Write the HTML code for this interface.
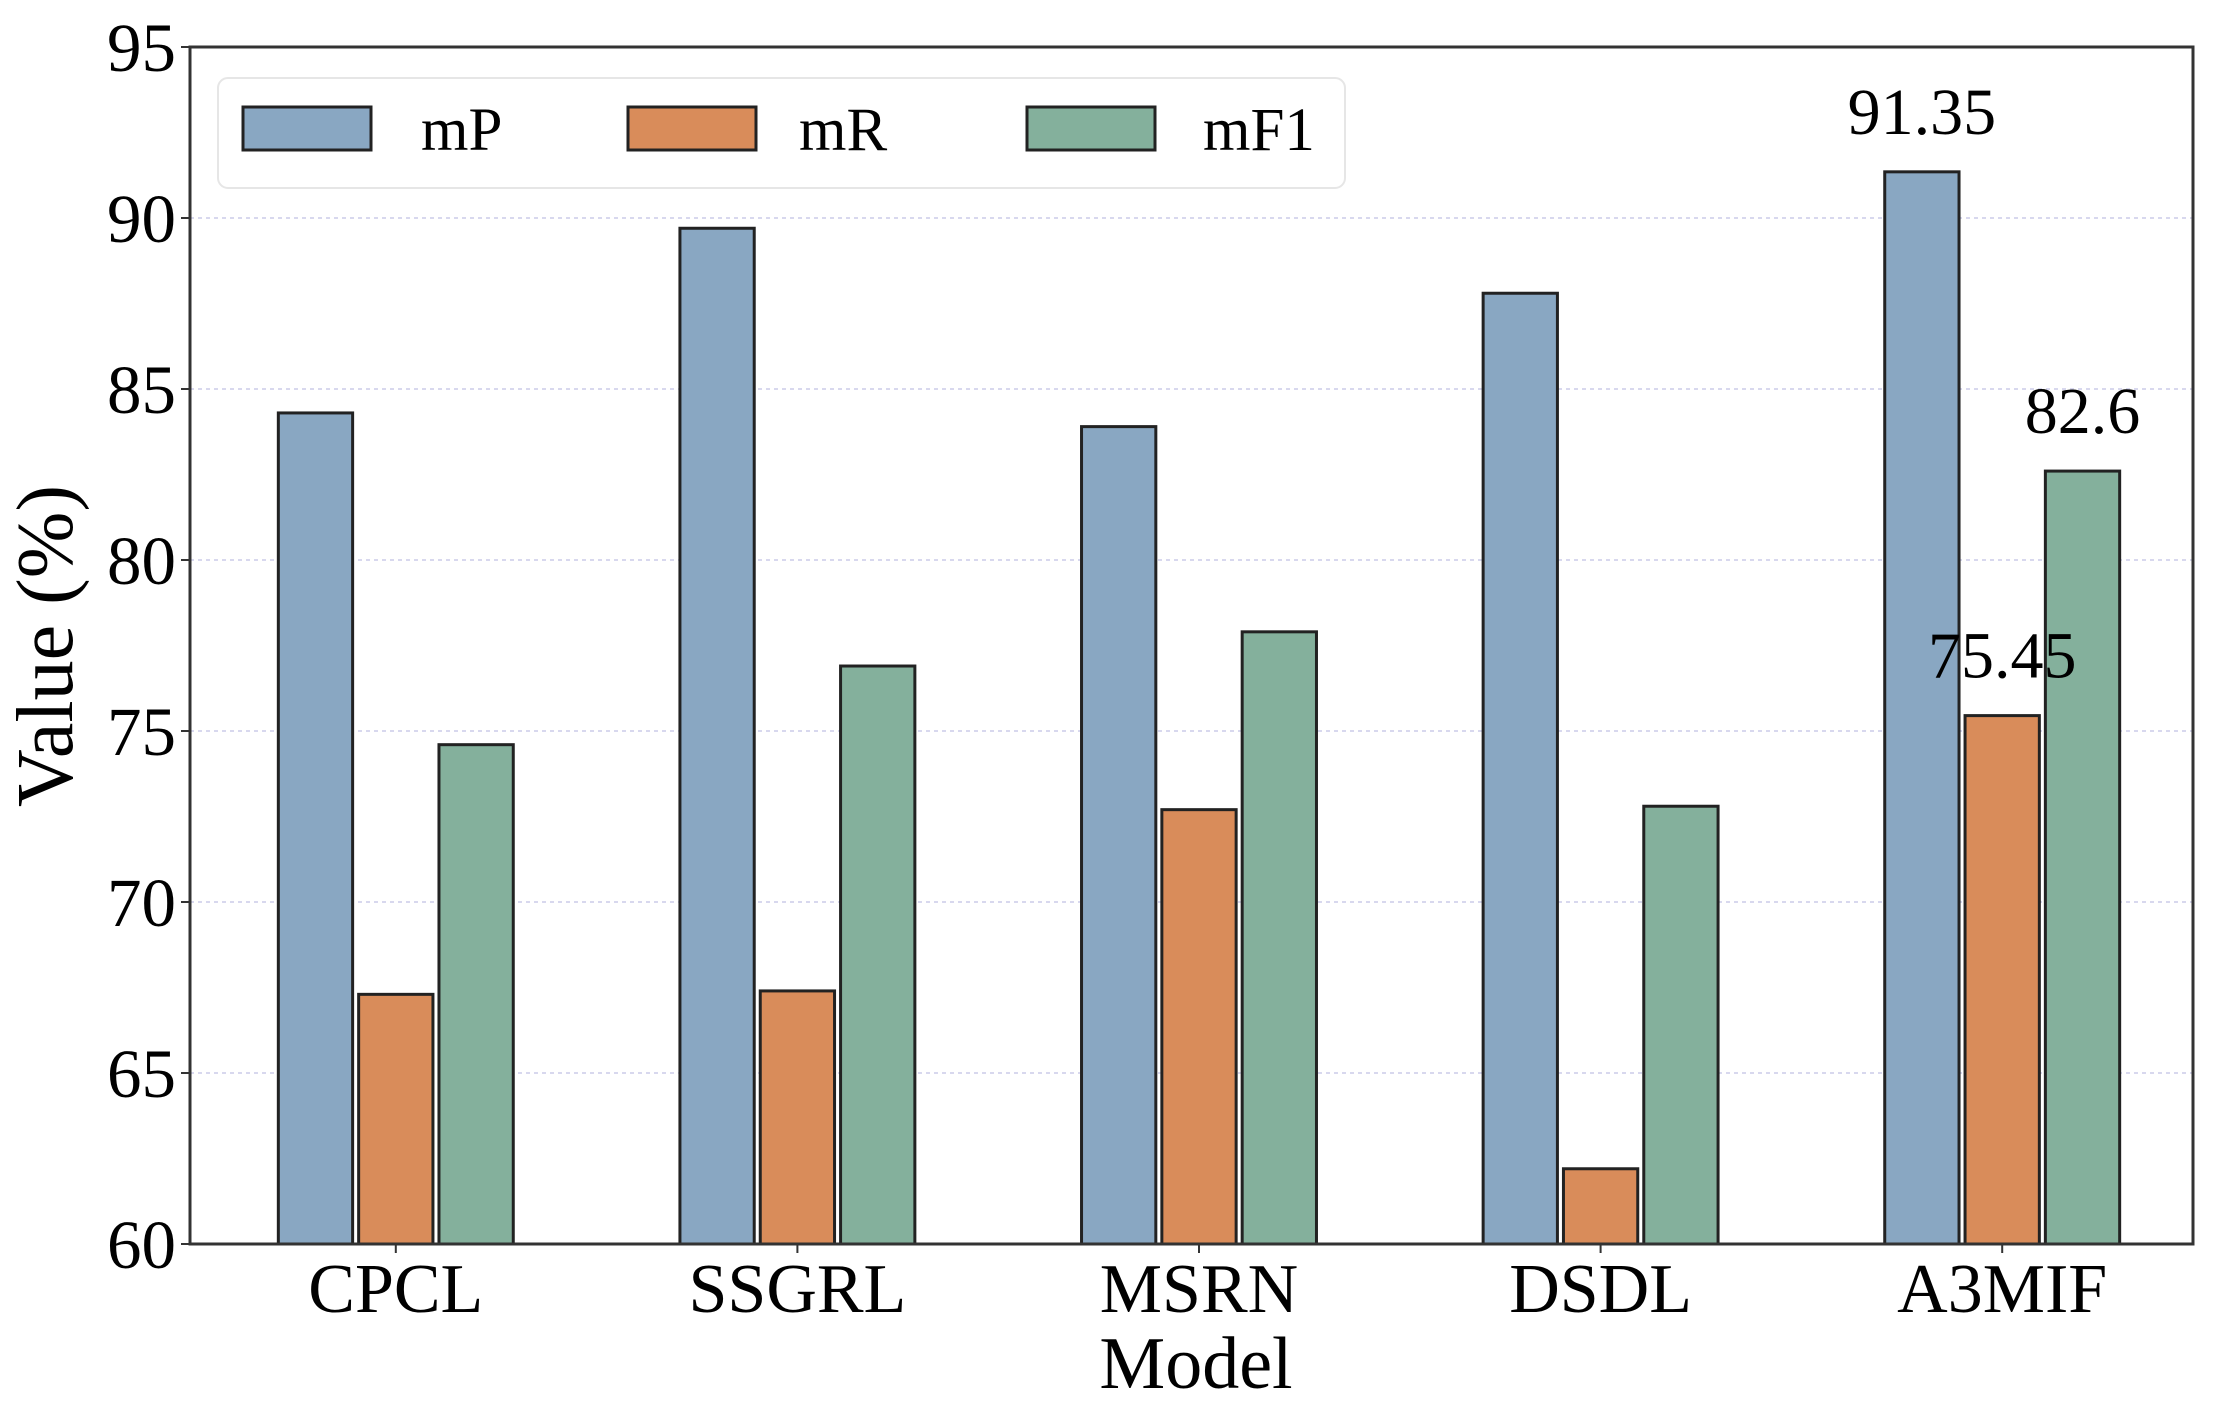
<!DOCTYPE html>
<html><head><meta charset="utf-8"><style>
html,body{margin:0;padding:0;background:#fff;}
svg{display:block;font-family:"Liberation Serif",serif;}
</style></head><body>
<svg id="chart" width="2237" height="1419" viewBox="0 0 2237 1419" xmlns="http://www.w3.org/2000/svg">
<g id="grid"></g>
<g id="bars"></g>
<rect x="190" y="47" width="2003" height="1197" fill="none" stroke="#333" stroke-width="3"/>
<g id="yticks"></g>
<g id="xticks"></g>
<g id="annots"></g>
<text x="0" y="0" transform="translate(72,646) rotate(-90)" text-anchor="middle" font-size="80">Value (%)</text>
<text x="1196" y="1388" text-anchor="middle" font-size="74">Model</text>
<g>
<rect x="218" y="78" width="1127" height="110" rx="10" fill="#fff" stroke="#e6e6e6" stroke-width="2"/>
<g><rect x="243" y="107" width="128" height="43" fill="#89a7c2" stroke="#222" stroke-width="3"/><text x="421" y="150" font-size="61">mP</text></g>
<g><rect x="628" y="107" width="128" height="43" fill="#d98c5a" stroke="#222" stroke-width="3"/><text x="799" y="150" font-size="61">mR</text></g>
<g><rect x="1027" y="107" width="128" height="43" fill="#84b09c" stroke="#222" stroke-width="3"/><text x="1203" y="150" font-size="61">mF1</text></g>
</g>
</svg>
<script>
const categories = ["CPCL","SSGRL","MSRN","DSDL","A3MIF"];
const mP = [84.3, 89.7, 83.9, 87.8, 91.35];
const mR = [67.3, 67.4, 72.7, 62.2, 75.45];
const mF1 = [74.6, 76.9, 77.9, 72.8, 82.6];
const yTicks = [60, 65, 70, 75, 80, 85, 90, 95];
const annotations = [[4, 0, "91.35"], [4, 1, "75.45"], [4, 2, "82.6"]];

const NS = "http://www.w3.org/2000/svg";
const L = 190, R = 2193, T = 47, B = 1244, yMin = 60, yMax = 95;
const slot = (R - L) / categories.length + 1;
function xC(i) { return L + 5 + (i + 0.5) * slot; }
function yS(v) { return B - (v - yMin) / (yMax - yMin) * (B - T); }
function mk(tag, attrs, parent) {
  const e = document.createElementNS(NS, tag);
  for (const k in attrs) e.setAttribute(k, attrs[k]);
  parent.appendChild(e); return e;
}
const series = [mP, mR, mF1];
const names = ["mp", "mr", "mf1"];
const colors = ["#89a7c2", "#d98c5a", "#84b09c"];
const gridG = document.getElementById('grid');
const yG = document.getElementById('yticks');
yTicks.forEach(t => {
  const y = yS(t);
  if (t > yMin && t < yMax) {
    const g = mk('line', {x1: L, x2: R, y1: y, y2: y, stroke: '#d8d8ee', 'stroke-width': 2, 'stroke-dasharray': '4,4'}, gridG);
    
    
  }
  const tk = mk('line', {x1: L - 9, x2: L, y1: y, y2: y, stroke: '#333', 'stroke-width': 2}, yG);
  
  
  const tx = mk('text', {x: L - 14, y: y + 24, 'text-anchor': 'end', 'font-size': 69}, yG);
  tx.textContent = t;
  
  
});
const barsG = document.getElementById('bars');
const bw = 0.185 * slot, off = 0.2 * slot;
series.forEach((s, si) => {
  s.forEach((v, i) => {
    const cx = xC(i) + (si - 1) * off;
    const r = mk('rect', {x: cx - bw / 2, y: yS(v), width: bw, height: B - yS(v), fill: colors[si], stroke: '#222', 'stroke-width': 3}, barsG);
    
    
  });
});
const xG = document.getElementById('xticks');
categories.forEach((c, i) => {
  const tk = mk('line', {x1: xC(i), x2: xC(i), y1: B, y2: B + 9, stroke: '#333', 'stroke-width': 2}, xG);
  
  
  const tx = mk('text', {x: xC(i), y: B + 68, 'text-anchor': 'middle', 'font-size': 70}, xG);
  tx.textContent = c;
  
  
});
const aG = document.getElementById('annots');
annotations.forEach(a => {
  const [i, si, label] = a;
  const v = series[si][i];
  const tx = mk('text', {x: xC(i) + (si - 1) * off, y: yS(v) - 38, 'text-anchor': 'middle', 'font-size': 66}, aG);
  tx.textContent = label;
  
  
});
</script>
</body></html>
